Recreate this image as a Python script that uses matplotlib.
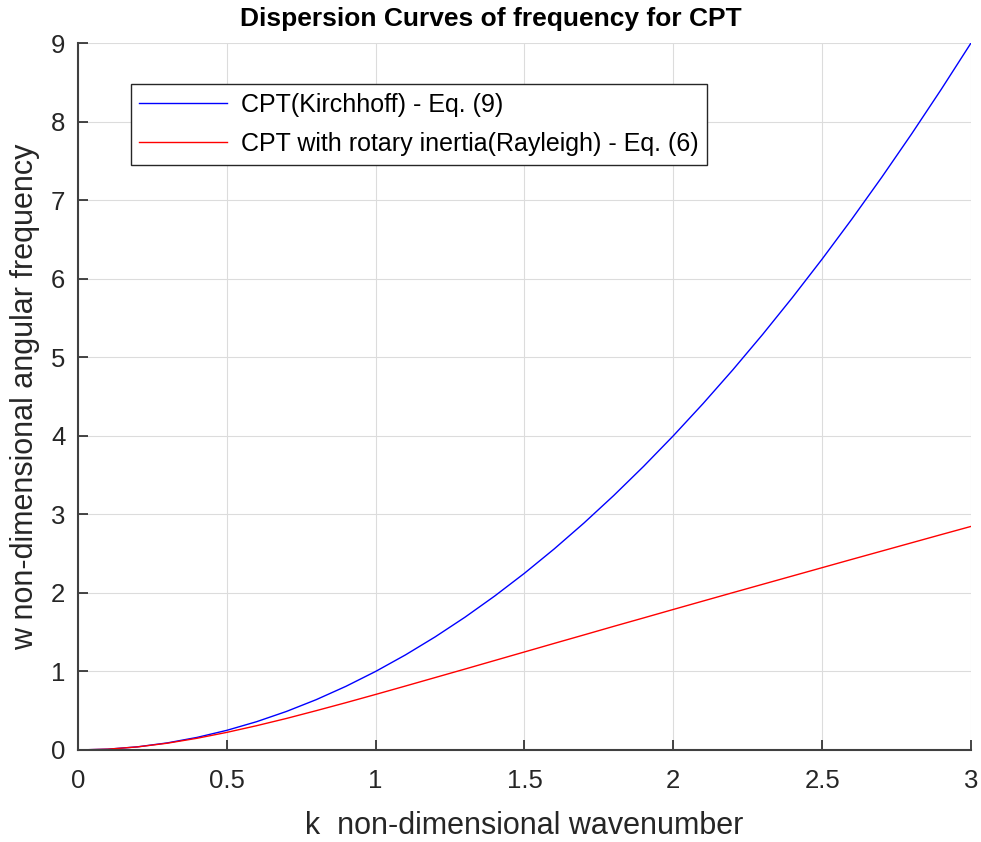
import numpy as np
import matplotlib
matplotlib.use('Agg')
import matplotlib.pyplot as plt

plt.rcParams['font.family'] = ['Liberation Sans', 'DejaVu Sans']

# wavenumber samples and curves
k = [0.0, 0.1, 0.2, 0.3, 0.4, 0.5, 0.6, 0.7, 0.8, 0.9, 1.0,
     1.1, 1.2, 1.3, 1.4, 1.5, 1.6, 1.7, 1.8, 1.9, 2.0,
     2.1, 2.2, 2.3, 2.4, 2.5, 2.6, 2.7, 2.8, 2.9, 3.0]
w_kirchhoff = [0.0, 0.01, 0.04, 0.09, 0.16, 0.25, 0.36, 0.49, 0.64, 0.81, 1.0,
               1.21, 1.44, 1.69, 1.96, 2.25, 2.56, 2.89, 3.24, 3.61, 4.0,
               4.41, 4.84, 5.29, 5.76, 6.25, 6.76, 7.29, 7.84, 8.41, 9.0]
w_rayleigh = [0.0, 0.010, 0.039, 0.086, 0.149, 0.224, 0.309, 0.401, 0.500, 0.602, 0.707,
              0.814, 0.922, 1.030, 1.139, 1.248, 1.357, 1.465, 1.574, 1.681, 1.789,
              1.896, 2.003, 2.109, 2.215, 2.321, 2.427, 2.532, 2.637, 2.742, 2.846]

labels = ['CPT(Kirchhoff) - Eq. (9)', 'CPT with rotary inertia(Rayleigh) - Eq. (6)']

fig = plt.figure(figsize=(9.81, 8.42), dpi=100)
ax = fig.add_axes([0.0795, 0.1093, 0.9103, 0.8396])

ax.plot(k, w_kirchhoff, color='#0000ff', lw=1.0, label=labels[0])
ax.plot(k, w_rayleigh, color='#ff0000', lw=1.0, label=labels[1])

ax.set_xlim(0, 3)
ax.set_ylim(0, 9)
ax.set_xticks(np.arange(0, 3.01, 0.5))
ax.set_xticklabels(['0', '0.5', '1', '1.5', '2', '2.5', '3'])
ax.set_yticks(range(0, 10))
ax.grid(True, color='#dcdcdc', lw=0.8)
ax.set_axisbelow(True)

for s in ['top', 'right']:
    ax.spines[s].set_visible(False)
for s in ['left', 'bottom']:
    ax.spines[s].set_color('#404040')
    ax.spines[s].set_linewidth(1.5)
ax.tick_params(direction='in', length=7, width=1.2, colors='#262626', labelsize=18.5)
ax.tick_params(axis='x', pad=14)
ax.tick_params(axis='y', pad=9)

ax.set_xlabel('k  non-dimensional wavenumber', fontsize=22, color='#262626', labelpad=13)
ax.set_ylabel('w non-dimensional angular frequency', fontsize=22, color='#262626', labelpad=8)
fig.text(0.5, 0.978, 'Dispersion Curves of frequency for CPT', fontsize=19,
         fontweight='bold', ha='center', va='center')

leg = ax.legend(loc='upper left', bbox_to_anchor=(0.059, 0.942), fontsize=18,
                fancybox=False, framealpha=1, edgecolor='#262626', borderaxespad=0,
                handlelength=3.5, handletextpad=0.55, borderpad=0.35, labelspacing=0.6)
leg.get_frame().set_linewidth(1.0)

fig.savefig('out.png', dpi=100)
